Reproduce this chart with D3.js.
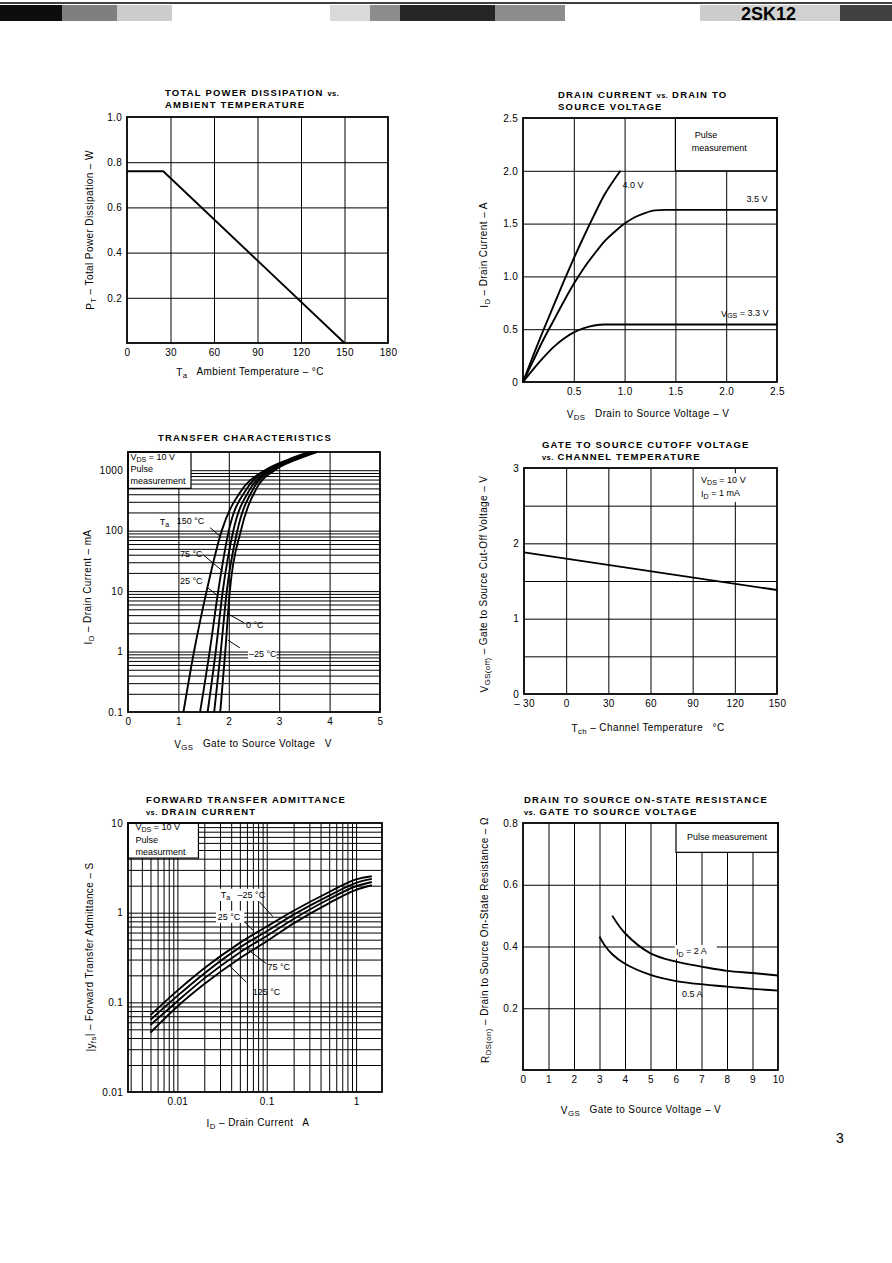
<!DOCTYPE html>
<html>
<head>
<meta charset="utf-8">
<title>2SK12 characteristics</title>
<script src="https://cdn.jsdelivr.net/npm/d3@7"></script>
<style>
  body { margin: 0; background: #fff; }
  svg { display: block; font-family: "Liberation Sans", Arial, sans-serif; }
  text { white-space: pre; fill: #000; }
  .grid line { stroke: #000; stroke-width: 1; }
  .tick text { font-size: 10px; letter-spacing: 0.3px; font-family: "Liberation Sans", Arial, sans-serif; }
  .title { font-size: 9.5px; font-weight: bold; letter-spacing: 1.2px; }
  .atitle { font-size: 10px; letter-spacing: 0.4px; }
  .note { font-size: 9px; }
  .curve { fill: none; stroke: #000; stroke-width: 1.9; }
  .frame { fill: none; stroke: #000; stroke-width: 1.8; }
  .lead { stroke: #000; stroke-width: 1; }
</style>
</head>
<body>
<svg id="page" width="892" height="1263"></svg>
<script>
// ---- data ----

// total power dissipation vs ambient temperature
const pdTemp = [0, 25, 150];
const pdWatt = [0.76, 0.76, 0];

// drain current vs drain to source voltage, one list per VGS
const vds40 = [0, 0.1, 0.2, 0.3, 0.4, 0.5, 0.6, 0.7, 0.8, 0.9, 0.96];
const id40  = [0, 0.25, 0.49, 0.72, 0.95, 1.17, 1.38, 1.58, 1.77, 1.92, 2.0];
const vds35 = [0, 0.1, 0.2, 0.3, 0.4, 0.5, 0.6, 0.7, 0.8, 0.9, 1.0, 1.1, 1.2, 1.3, 1.4, 2.5];
const id35  = [0, 0.2, 0.4, 0.58, 0.76, 0.93, 1.08, 1.21, 1.33, 1.42, 1.5, 1.56, 1.6, 1.625, 1.63, 1.63];
const vds33 = [0, 0.1, 0.2, 0.3, 0.4, 0.5, 0.6, 0.7, 0.8, 2.5];
const id33  = [0, 0.12, 0.23, 0.33, 0.41, 0.47, 0.51, 0.535, 0.545, 0.545];

// transfer characteristics (ID in mA), VGS per temperature
const tfCurrent = [0.1, 1, 10, 100, 500, 1000, 1500, 2000];
const tfTemps = ['150', '75', '25', '0', '-25'];
const tfVgs = {
  '150': [1.10, 1.31, 1.56, 1.86, 2.28, 2.72, 3.18, 3.6],
  '75':  [1.43, 1.62, 1.79, 2.00, 2.36, 2.76, 3.22, 3.65],
  '25':  [1.58, 1.74, 1.88, 2.09, 2.43, 2.81, 3.26, 3.7],
  '0':   [1.71, 1.84, 1.96, 2.17, 2.49, 2.86, 3.3, 3.72],
  '-25': [1.83, 1.93, 2.02, 2.24, 2.55, 2.91, 3.34, 3.75]
};

// gate to source cutoff voltage vs channel temperature
const cutTemp = [-30, 150];
const cutVolt = [1.88, 1.38];

// forward transfer admittance vs drain current
const yfsCurrent = [0.005, 0.01, 0.02, 0.05, 0.1, 0.2, 0.5, 1, 1.5];
const yfsTemps = ['-25', '25', '75', '125'];
const yfsValues = {
  '-25': [0.072, 0.135, 0.24, 0.46, 0.70, 1.05, 1.7, 2.35, 2.55],
  '25':  [0.064, 0.118, 0.21, 0.41, 0.62, 0.95, 1.55, 2.15, 2.38],
  '75':  [0.056, 0.103, 0.185, 0.36, 0.55, 0.85, 1.42, 1.97, 2.2],
  '125': [0.046, 0.09, 0.16, 0.31, 0.48, 0.76, 1.28, 1.8, 2.02]
};

// on-state resistance vs gate to source voltage
const rdsVgs2 = [3.5, 4, 5, 6, 7, 8, 9, 10];
const rds2    = [0.50, 0.443, 0.378, 0.351, 0.335, 0.321, 0.314, 0.306];
const rdsVgs05 = [3.0, 3.2, 3.5, 4, 5, 6, 8, 10];
const rds05    = [0.432, 0.404, 0.375, 0.344, 0.308, 0.288, 0.270, 0.257];

// tick labels
const pdTicksX = [0, 30, 60, 90, 120, 150, 180];
const pdTicksY = [0.2, 0.4, 0.6, 0.8, 1.0];
const idTicksX = [0.5, 1.0, 1.5, 2.0, 2.5];
const idTicksY = [0, 0.5, 1.0, 1.5, 2.0, 2.5];
const tfTicksX = [0, 1, 2, 3, 4, 5];
const tfTicksY = [0.1, 1, 10, 100, 1000];
const cutTicksX = [-30, 0, 30, 60, 90, 120, 150];
const cutTicksY = [0, 1, 2, 3];
const yfsTicksX = [0.01, 0.1, 1];
const yfsTicksY = [0.01, 0.1, 1, 10];
const rdsTicksX = [0, 1, 2, 3, 4, 5, 6, 7, 8, 9, 10];
const rdsTicksY = [0.2, 0.4, 0.6, 0.8];

// ---- helpers ----
const svg = d3.select('#page');

function panel(box, x, y) {
  x.range([box[0], box[2]]);
  y.range([box[3], box[1]]);
  return { g: svg.append('g'), x, y, l: box[0], t: box[1], r: box[2], b: box[3] };
}
function gridX(p, vals) {
  p.g.append('g').attr('class', 'grid')
    .attr('transform', `translate(0,${p.b})`)
    .call(d3.axisBottom(p.x).tickValues(vals).tickSize(-(p.b - p.t)).tickFormat(''))
    .call(s => s.select('.domain').remove());
}
function gridY(p, vals) {
  p.g.append('g').attr('class', 'grid')
    .attr('transform', `translate(${p.l},0)`)
    .call(d3.axisLeft(p.y).tickValues(vals).tickSize(-(p.r - p.l)).tickFormat(''))
    .call(s => s.select('.domain').remove());
}
function labelsX(p, vals, fmt) {
  p.g.append('g').attr('transform', `translate(0,${p.b})`)
    .call(d3.axisBottom(p.x).tickValues(vals).tickSize(0).tickPadding(6).tickFormat(fmt))
    .call(s => s.select('.domain').remove());
}
function labelsY(p, vals, fmt) {
  p.g.append('g').attr('transform', `translate(${p.l},0)`)
    .call(d3.axisLeft(p.y).tickValues(vals).tickSize(0).tickPadding(5).tickFormat(fmt))
    .call(s => s.select('.domain').remove());
}
function frame(p) {
  p.g.append('rect').attr('class', 'frame')
    .attr('x', p.l).attr('y', p.t).attr('width', p.r - p.l).attr('height', p.b - p.t);
}
function legendBox(p, x0, y0, x1, y1) {
  p.g.append('rect')
    .attr('x', p.x(x0)).attr('y', p.y(y1))
    .attr('width', p.x(x1) - p.x(x0)).attr('height', p.y(y0) - p.y(y1))
    .attr('fill', '#fff').attr('stroke', '#000').attr('stroke-width', 1.2);
}
function blank(p, x0, y0, x1, y1) {
  p.g.append('rect')
    .attr('x', p.x(x0)).attr('y', p.y(y1))
    .attr('width', p.x(x1) - p.x(x0)).attr('height', p.y(y0) - p.y(y1))
    .attr('fill', '#fff');
}
function curve(p, xs, ys, shape = d3.curveMonotoneX) {
  p.g.append('path').attr('class', 'curve')
    .datum(xs.map((v, i) => [v, ys[i]]))
    .attr('d', d3.line().x(d => p.x(d[0])).y(d => p.y(d[1])).curve(shape));
}
// parts: plain strings, or [text] for a subscript
function rich(sel, parts) {
  let low = false;
  parts.forEach(part => {
    const sub = typeof part !== 'string';
    const t = sel.append('tspan').text(sub ? part[0] : part);
    if (sub && !low) t.attr('dy', '0.28em');
    if (!sub && low) t.attr('dy', '-0.28em');
    if (sub) t.attr('font-size', '0.78em');
    low = sub;
  });
  return sel;
}
function note(p, x, y, parts, anchor = 'start') {
  const t = p.g.append('text').attr('class', 'note')
    .attr('x', p.x(x)).attr('y', p.y(y)).attr('text-anchor', anchor);
  return rich(t, parts);
}
function lead(p, a, b) {
  p.g.append('line').attr('class', 'lead')
    .attr('x1', p.x(a[0])).attr('y1', p.y(a[1]))
    .attr('x2', p.x(b[0])).attr('y2', p.y(b[1]));
}
function title(x, y, lines) {
  lines.forEach((line, i) => {
    const t = svg.append('text').attr('class', 'title').attr('x', x).attr('y', y + i * 12);
    line.split(/(vs\.)/).forEach(s => {
      if (s === 'vs.') t.append('tspan').attr('font-size', '7.5px').attr('letter-spacing', '0.4px').text('vs.');
      else if (s) t.append('tspan').text(s);
    });
  });
}
function xTitle(x, y, parts) {
  rich(svg.append('text').attr('class', 'atitle').attr('x', x).attr('y', y).attr('text-anchor', 'middle'), parts);
}
function yTitle(x, y, parts) {
  rich(svg.append('text').attr('class', 'atitle')
    .attr('transform', `translate(${x},${y}) rotate(-90)`).attr('text-anchor', 'middle'), parts);
}

// ---- header band of the scanned page ----
svg.append('line').attr('x1', 0).attr('x2', 892).attr('y1', 3).attr('y2', 3)
  .attr('stroke', '#000').attr('stroke-width', 1.5);
const headBlocks = [[0, 62, 0.95], [62, 55, 0.5], [117, 55, 0.2], [330, 40, 0.15], [370, 30, 0.45],
  [400, 95, 0.85], [495, 70, 0.45], [700, 40, 0.2], [740, 100, 0.18], [840, 52, 0.75]];
svg.append('g').selectAll('rect').data(headBlocks).join('rect')
  .attr('x', d => d[0]).attr('y', 5).attr('width', d => d[1]).attr('height', 16)
  .attr('fill', '#000').attr('opacity', d => d[2]);
svg.append('text').attr('x', 741).attr('y', 20).attr('font-size', 18).attr('font-weight', 'bold')
  .text('2SK12');

// ---- 1: total power dissipation ----
{
  const p = panel([127, 117, 388, 343], d3.scaleLinear().domain([0, 180]), d3.scaleLinear().domain([0, 1]));
  gridX(p, [30, 60, 90, 120, 150]);
  gridY(p, [0.2, 0.4, 0.6, 0.8]);
  curve(p, pdTemp, pdWatt, d3.curveLinear);
  frame(p);
  labelsX(p, pdTicksX, d3.format('d'));
  labelsY(p, pdTicksY, d3.format('.1f'));
  title(165, 96, ['TOTAL POWER DISSIPATION vs.', 'AMBIENT TEMPERATURE']);
  xTitle(250, 376, ['T', ['a'], '   Ambient Temperature – °C']);
  yTitle(94, 230, ['P', ['T'], ' – Total Power Dissipation – W']);
}

// ---- 2: drain current vs drain to source voltage ----
{
  const p = panel([523, 118, 777, 382], d3.scaleLinear().domain([0, 2.5]), d3.scaleLinear().domain([0, 2.5]));
  gridX(p, [0.5, 1.0, 1.5, 2.0]);
  gridY(p, [0.5, 1.0, 1.5, 2.0]);
  legendBox(p, 1.5, 2.0, 2.5, 2.5);
  note(p, 1.69, 2.31, ['Pulse']);
  note(p, 1.66, 2.19, ['measurement']);
  curve(p, vds40, id40);
  curve(p, vds35, id35);
  curve(p, vds33, id33);
  note(p, 0.98, 1.84, ['4.0 V']);
  note(p, 2.2, 1.7, ['3.5 V']);
  note(p, 1.95, 0.62, ['V', ['GS'], ' = 3.3 V']);
  frame(p);
  labelsX(p, idTicksX, d3.format('.1f'));
  labelsY(p, idTicksY, d => d === 0 ? '0' : d3.format('.1f')(d));
  title(558, 98, ['DRAIN CURRENT vs. DRAIN TO', 'SOURCE VOLTAGE']);
  xTitle(648, 418, ['V', ['DS'], '   Drain to Source Voltage – V']);
  yTitle(488, 255, ['I', ['D'], ' – Drain Current – A']);
}

// ---- 3: transfer characteristics ----
{
  const p = panel([128, 452, 380, 712], d3.scaleLinear().domain([0, 5]), d3.scaleLog().domain([0.1, 2000]));
  gridX(p, [1, 2, 3, 4]);
  gridY(p, p.y.ticks().filter(v => v > 0.1 && v < 2000));
  legendBox(p, 0, 500, 1.25, 2000);
  note(p, 0.05, 1450, ['V', ['DS'], ' = 10 V']);
  note(p, 0.05, 930, ['Pulse']);
  note(p, 0.05, 590, ['measurement']);
  tfTemps.forEach(t => curve(p, tfVgs[t], tfCurrent));
  note(p, 0.63, 125, ['T', ['a'], '   150 °C']);
  lead(p, [1.63, 112], [1.85, 78]);
  note(p, 1.03, 37, ['75 °C']);
  lead(p, [1.49, 40], [1.89, 21]);
  note(p, 1.03, 13, ['25 °C']);
  lead(p, [1.59, 11.2], [1.79, 8.3]);
  note(p, 2.34, 2.45, ['0 °C']);
  lead(p, [2.3, 3.0], [1.96, 4.3]);
  blank(p, 2.38, 0.7, 2.95, 1.05);
  note(p, 2.4, 0.8, ['–25 °C']);
  lead(p, [2.22, 1.15], [1.98, 1.55]);
  frame(p);
  labelsX(p, tfTicksX, d3.format('d'));
  labelsY(p, tfTicksY, d => String(d));
  title(158, 441, ['TRANSFER CHARACTERISTICS']);
  xTitle(253, 748, ['V', ['GS'], '   Gate to Source Voltage   V']);
  yTitle(92, 587, ['I', ['D'], ' – Drain Current – mA']);
}

// ---- 4: gate to source cutoff voltage ----
{
  const p = panel([524, 468, 777, 694], d3.scaleLinear().domain([-30, 150]), d3.scaleLinear().domain([0, 3]));
  gridX(p, [0, 30, 60, 90, 120]);
  gridY(p, [0.5, 1, 1.5, 2, 2.5]);
  curve(p, cutTemp, cutVolt, d3.curveLinear);
  blank(p, 93, 2.55, 142, 2.93);
  note(p, 96, 2.8, ['V', ['DS'], ' = 10 V']);
  note(p, 96, 2.62, ['I', ['D'], ' = 1 mA']);
  frame(p);
  labelsX(p, cutTicksX, d => d < 0 ? '– ' + Math.abs(d) : String(d));
  labelsY(p, cutTicksY, d3.format('d'));
  title(542, 448, ['GATE TO SOURCE CUTOFF VOLTAGE', 'vs. CHANNEL TEMPERATURE']);
  xTitle(648, 732, ['T', ['ch'], ' – Channel Temperature   °C']);
  yTitle(488, 584, ['V', ['GS(off)'], ' – Gate to Source Cut-Off Voltage – V']);
}

// ---- 5: forward transfer admittance ----
{
  const p = panel([128, 823, 382, 1092], d3.scaleLog().domain([0.0028, 1.95]), d3.scaleLog().domain([0.01, 10]));
  gridX(p, p.x.ticks().filter(v => v > 0.0028 && v < 1.95));
  gridY(p, p.y.ticks().filter(v => v > 0.01 && v < 10));
  legendBox(p, 0.0028, 4.06, 0.0172, 10);
  note(p, 0.0034, 8.3, ['V', ['DS'], ' = 10 V']);
  note(p, 0.0034, 6.0, ['Pulse']);
  note(p, 0.0034, 4.4, ['measurment']);
  yfsTemps.forEach(t => curve(p, yfsCurrent, yfsValues[t]));
  blank(p, 0.029, 1.35, 0.085, 1.85);
  note(p, 0.0305, 1.45, ['T', ['a'], '   –25 °C']);
  lead(p, [0.083, 1.32], [0.1175, 0.9]);
  blank(p, 0.027, 0.77, 0.056, 1.05);
  note(p, 0.0283, 0.82, ['25 °C']);
  lead(p, [0.0566, 0.79], [0.07, 0.637]);
  note(p, 0.102, 0.228, ['75 °C']);
  lead(p, [0.099, 0.27], [0.0617, 0.388]);
  note(p, 0.0697, 0.12, ['125 °C']);
  lead(p, [0.0591, 0.168], [0.0378, 0.259]);
  frame(p);
  labelsX(p, yfsTicksX, d => String(d));
  labelsY(p, yfsTicksY, d => String(d));
  title(146, 803, ['FORWARD TRANSFER ADMITTANCE', 'vs. DRAIN CURRENT']);
  xTitle(258, 1127, ['I', ['D'], ' – Drain Current   A']);
  yTitle(94, 957, ['|y', ['fs'], '| – Forward Transfer Admittance – S']);
}

// ---- 6: on-state resistance ----
{
  const p = panel([523, 823, 778, 1070], d3.scaleLinear().domain([0, 10]), d3.scaleLinear().domain([0, 0.8]));
  gridX(p, [1, 2, 3, 4, 5, 6, 7, 8, 9]);
  gridY(p, [0.2, 0.4, 0.6]);
  legendBox(p, 6, 0.705, 10, 0.8);
  note(p, 8, 0.745, ['Pulse measurement'], 'middle');
  curve(p, rdsVgs2, rds2, d3.curveCatmullRom.alpha(0.5));
  curve(p, rdsVgs05, rds05, d3.curveCatmullRom.alpha(0.5));
  blank(p, 5.95, 0.36, 7.6, 0.405);
  note(p, 6.0, 0.373, ['I', ['D'], ' = 2 A']);
  note(p, 6.24, 0.237, ['0.5 A']);
  frame(p);
  labelsX(p, rdsTicksX, d3.format('d'));
  labelsY(p, rdsTicksY, d3.format('.1f'));
  title(524, 803, ['DRAIN TO SOURCE ON-STATE RESISTANCE', 'vs. GATE TO SOURCE VOLTAGE']);
  xTitle(641, 1114, ['V', ['GS'], '   Gate to Source Voltage – V']);
  yTitle(489, 940, ['R', ['DS(on)'], ' – Drain to Source On-State Resistance – Ω']);
}

// page number
svg.append('text').attr('x', 836).attr('y', 1143).attr('font-size', 14).text('3');
</script>
</body>
</html>
